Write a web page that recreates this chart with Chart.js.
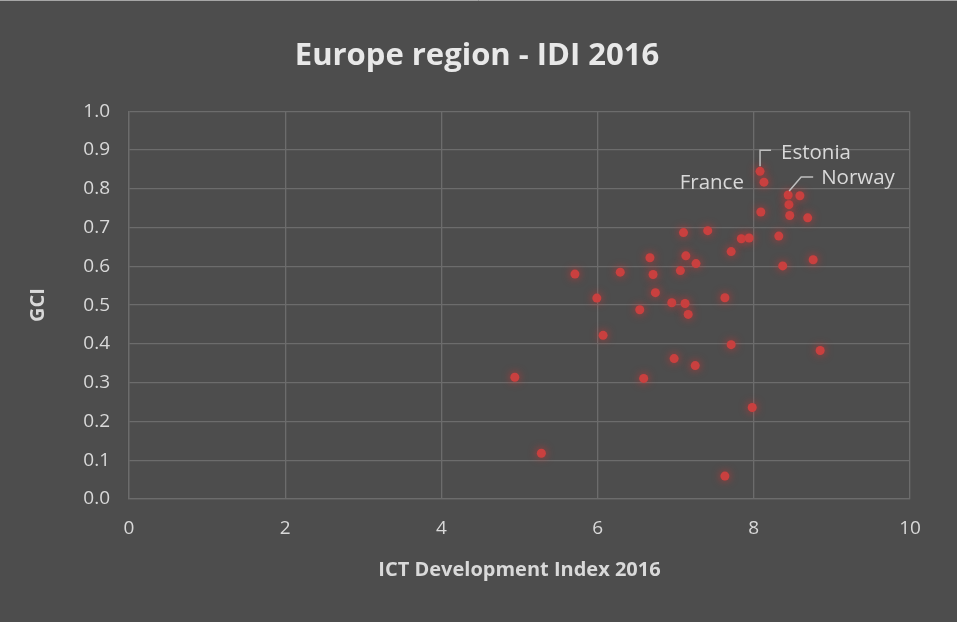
<!DOCTYPE html>
<html>
<head>
<meta charset="utf-8">
<script src="https://cdn.jsdelivr.net/npm/chart.js@4.4.1/dist/chart.umd.min.js"></script>
<style>
  html, body { margin: 0; padding: 0; background: #4d4d4d; }
  #wrap { width: 957px; height: 622px; position: relative; }
</style>
</head>
<body>
<div id="wrap"><canvas id="idiChart"></canvas></div>
<script>
// ICT Development Index 2016 (x) vs GCI (y), Europe region
const idiValues = [4.94, 5.28, 5.71, 5.99, 6.07, 6.29, 6.54, 6.59, 6.67, 6.71,
  6.74, 6.95, 6.98, 7.06, 7.10, 7.12, 7.13, 7.16, 7.25, 7.26,
  7.41, 7.63, 7.63, 7.71, 7.71, 7.84, 7.94, 7.98, 8.08, 8.13,
  8.09, 8.32, 8.37, 8.44, 8.45, 8.46, 8.59, 8.69, 8.76, 8.85];
const gciValues = [0.314, 0.118, 0.580, 0.518, 0.422, 0.585, 0.488, 0.311, 0.622, 0.579,
  0.532, 0.506, 0.362, 0.589, 0.687, 0.504, 0.627, 0.476, 0.344, 0.607,
  0.692, 0.519, 0.059, 0.638, 0.398, 0.671, 0.673, 0.236, 0.845, 0.817,
  0.740, 0.678, 0.601, 0.784, 0.759, 0.731, 0.782, 0.725, 0.617, 0.383];
// labelled countries: index into the arrays above
const labelNames = ['Estonia', 'France', 'Norway'];
const labelIndex = [28, 29, 33];

const xTicks = [0, 2, 4, 6, 8, 10];
const yTicks = [0, 0.1, 0.2, 0.3, 0.4, 0.5, 0.6, 0.7, 0.8, 0.9, 1.0];

const FONT = "'Open Sans', 'Liberation Sans', sans-serif";
const TXT = '#d9d9d9';
const GRID = '#6c6c6c';

const points = idiValues.map((x, i) => ({ x: x, y: gciValues[i] }));

const bgPlugin = {
  id: 'bg',
  beforeDraw(chart) {
    const ctx = chart.ctx;
    ctx.save();
    ctx.fillStyle = '#4d4d4d';
    ctx.fillRect(0, 0, chart.width, chart.height);
    ctx.strokeStyle = '#a6a6a6';
    ctx.lineWidth = 1;
    ctx.beginPath();
    ctx.moveTo(0, 0.5); ctx.lineTo(chart.width, 0.5);
    ctx.stroke();
    ctx.restore();
  }
};

const glowPlugin = {
  id: 'glow',
  beforeDatasetsDraw(chart) {
    chart.ctx.save();
    chart.ctx.shadowColor = 'rgba(210,50,50,0.85)';
    chart.ctx.shadowBlur = 8;
  },
  afterDatasetsDraw(chart) {
    chart.ctx.restore();
  }
};

// country labels with small leader lines, like the Excel data labels
const labelPlugin = {
  id: 'countryLabels',
  afterDatasetsDraw(chart) {
    const ctx = chart.ctx;
    const meta = chart.getDatasetMeta(0);
    ctx.save();
    ctx.font = '20.5px ' + FONT;
    ctx.fillStyle = TXT;
    ctx.strokeStyle = '#bfbfbf';
    ctx.lineWidth = 1.5;
    ctx.textBaseline = 'middle';
    labelNames.forEach((name, k) => {
      const el = meta.data[labelIndex[k]];
      const px = el.x, py = el.y;
      if (name === 'Estonia') {
        ctx.beginPath();
        ctx.moveTo(px, py - 5); ctx.lineTo(px, py - 21); ctx.lineTo(px + 11, py - 21);
        ctx.stroke();
        ctx.textAlign = 'left';
        ctx.fillText(name, px + 21, py - 18);
      } else if (name === 'Norway') {
        ctx.beginPath();
        ctx.moveTo(px + 1, py - 4); ctx.lineTo(px + 13, py - 18); ctx.lineTo(px + 25, py - 18);
        ctx.stroke();
        ctx.textAlign = 'left';
        ctx.fillText(name, px + 33, py - 17);
      } else {
        ctx.textAlign = 'right';
        ctx.fillText(name, px - 20, py + 1);
      }
    });
    ctx.restore();
  }
};

new Chart(document.getElementById('idiChart'), {
  type: 'scatter',
  data: {
    datasets: [{
      label: 'GCI',
      data: points,
      backgroundColor: '#c9403f',
      borderWidth: 0,
      pointRadius: 4.5,
      pointHoverRadius: 4.5
    }]
  },
  options: {
    responsive: true,
    maintainAspectRatio: false,
    animation: false,
    layout: { padding: { left: 44, right: 47, top: 0, bottom: 0 } },
    plugins: {
      legend: { display: false },
      tooltip: { enabled: false },
      title: {
        display: true,
        text: 'Europe region - IDI 2016',
        color: '#e8e8e8',
        font: { family: FONT, size: 31, weight: 'bold' },
        padding: { top: 38, bottom: 36 }
      }
    },
    scales: {
      x: {
        type: 'linear',
        min: 0,
        max: 10,
        afterBuildTicks: (scale) => { scale.ticks = xTicks.map(v => ({ value: v })); },
        afterFit: (scale) => { scale.height = 123; },
        grid: { color: GRID, lineWidth: 1.3, drawTicks: false },
        border: { color: GRID, width: 1.3 },
        ticks: { color: TXT, font: { family: FONT, size: 19 }, padding: 18 },
        title: {
          display: true,
          text: 'ICT Development Index 2016',
          color: TXT,
          font: { family: FONT, size: 20, weight: 'bold' },
          padding: { top: 4, bottom: 40 }
        }
      },
      y: {
        type: 'linear',
        min: 0,
        max: 1,
        afterBuildTicks: (scale) => { scale.ticks = yTicks.map(v => ({ value: v })); },
        afterFit: (scale) => { scale.width = 85; },
        grid: { color: GRID, lineWidth: 1.3, drawTicks: false },
        border: { color: GRID, width: 1.3 },
        ticks: {
          color: TXT,
          font: { family: FONT, size: 19 },
          padding: 19,
          callback: (v) => Number(v).toFixed(1)
        },
        title: {
          display: true,
          text: 'GCI',
          color: TXT,
          font: { family: FONT, size: 20, weight: 'bold' },
          padding: { top: -18, bottom: 0 }
        }
      }
    }
  },
  plugins: [bgPlugin, glowPlugin, labelPlugin]
});
</script>
</body>
</html>
